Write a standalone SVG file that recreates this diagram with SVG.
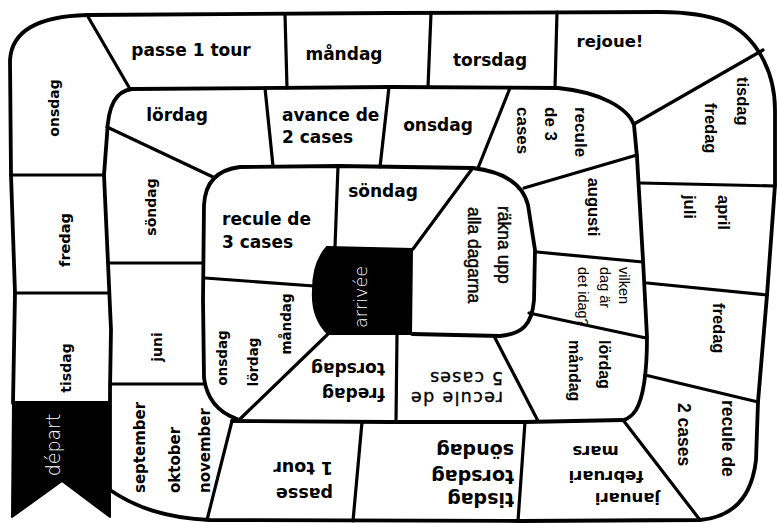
<svg xmlns="http://www.w3.org/2000/svg" width="777" height="523" viewBox="0 0 777 523">
<style>
.ln{fill:none;stroke:#000;stroke-width:3.2;stroke-linecap:round;stroke-linejoin:round}
.thick{stroke-width:3.8}
.v{font-family:"DejaVu Sans",Verdana,sans-serif;font-weight:bold;fill:#000}
.a{font-family:"Liberation Sans",Arial,sans-serif;font-weight:bold;fill:#000}
.r{font-family:"Liberation Sans",Arial,sans-serif;fill:#000}
.m{font-family:"Liberation Sans",Arial,sans-serif;fill:#000;stroke:#000;stroke-width:0.45}
.d{font-family:"DejaVu Sans",sans-serif;fill:#000;stroke:#000;stroke-width:0.35}
.w{font-family:"DejaVu Sans",sans-serif;font-weight:200;fill:#fff}
</style>
<rect width="777" height="523" fill="#fff"/>
<g id="board">
  <polygon id="depart-banner" points="13,402 110,402 110,517 62,481 12,517" fill="#000" stroke="#000" stroke-width="2" stroke-linejoin="round"/>
  <path id="arrivee-block" d="M327,247 L412,249 L411,334 L328,334 C316,322 312,306 313,290 C313,272 317,258 327,247 Z" fill="#000" stroke="#000" stroke-width="2"/>
  <path class="ln thick" d="M110,490 C135,507 165,518 210,520 L520,521 L700,520 C735,517 752,495 756,460 L758,402 L767,295 L775,185 L775,110 C775,70 755,35 725,22 C705,14 685,12 660,12 L390,13 L87,15 C50,16 12,25 10,60 L11,175 L15,293 L13,403"/>
  <path class="ln thick" d="M110,490 L110,390 L111,330 L108,263 L104,175 L107,135 C108,105 116,91 132,89 L390,87 L558,88 C600,92 628,108 634,125 L637,157 L643,260 L647,337 C647,372 643,398 636,410 C632,416 628,419 623,420 L525,422 L390,422 L232,421"/>
  <path class="ln thick" d="M237,419 C220,413 207,400 204,378 L203,300 L204,205 C205,185 215,170 240,167 L338,166 L473,168 C505,172 523,185 528,205 L535,250 L534,300 C532,325 522,334 500,336 L412,334"/>
</g>
<g id="connectors">
  <path class="ln" d="M87,15 L130,89"/>
  <path class="ln" d="M285,14 L287,88"/>
  <path class="ln" d="M431,13 L428,87"/>
  <path class="ln" d="M557,12 L555,88"/>
  <path class="ln" d="M763,50 L634,124"/>
  <path class="ln" d="M640,183 L775,186"/>
  <path class="ln" d="M647,283 L767,295"/>
  <path class="ln" d="M645,375 L758,402"/>
  <path class="ln" d="M623,420 L700,520"/>
  <path class="ln" d="M525,422 L518,521"/>
  <path class="ln" d="M362,422 L353,521"/>
  <path class="ln" d="M232,421 L207,520"/>
  <path class="ln" d="M11,175 L104,175"/>
  <path class="ln" d="M15,293 L109,293"/>
  <path class="ln" d="M107,127 L213,177"/>
  <path class="ln" d="M265,88 L273,166"/>
  <path class="ln" d="M389,87 L380,167"/>
  <path class="ln" d="M510,88 L478,168"/>
  <path class="ln" d="M524,188 L637,155"/>
  <path class="ln" d="M537,252 L643,262"/>
  <path class="ln" d="M529,313 L646,338"/>
  <path class="ln" d="M494,336 L538,421"/>
  <path class="ln" d="M397,335 L396,421"/>
  <path class="ln" d="M328,334 L240,419"/>
  <path class="ln" d="M108,263 L203,263"/>
  <path class="ln" d="M110,384 L203,384"/>
  <path class="ln" d="M338,166 L335,247"/>
  <path class="ln" d="M205,278 L314,286"/>
  <path class="ln" d="M472,169 L413,249"/>
</g>
<g id="labels">
  <g id="c-passe1"><text class="v" font-size="17" x="191" y="56" text-anchor="middle">passe 1 tour</text></g>
  <g id="c-mandag1"><text class="v" font-size="17" x="344" y="60" text-anchor="middle">måndag</text></g>
  <g id="c-torsdag1"><text class="v" font-size="17" x="490" y="66" text-anchor="middle">torsdag</text></g>
  <g id="c-rejoue"><text class="v" font-size="16.5" x="610" y="47" text-anchor="middle">rejoue!</text></g>
  <g id="c-lordag1"><text class="v" font-size="17" x="177" y="121" text-anchor="middle">lördag</text></g>
  <g id="c-avance"><text class="v" font-size="17" x="282" y="121">avance de</text><text class="v" font-size="17" x="282" y="143">2 cases</text></g>
  <g id="c-onsdag2"><text class="v" font-size="17" x="438" y="131" text-anchor="middle">onsdag</text></g>
  <g id="c-recule3b"><text class="v" font-size="17" x="222" y="225">recule de</text><text class="v" font-size="17" x="222" y="248">3 cases</text></g>
  <g id="c-sondag3"><text class="v" font-size="17" x="383" y="197" text-anchor="middle">söndag</text></g>

  <g id="c-onsdag1"><text class="v" font-size="14" transform="translate(58.6,108) rotate(-90)" text-anchor="middle">onsdag</text></g>
  <g id="c-fredag1"><text class="v" font-size="14.5" transform="translate(69.8,240) rotate(-90)" text-anchor="middle">fredag</text></g>
  <g id="c-tisdag1"><text class="v" font-size="14" transform="translate(70.6,368) rotate(-90)" text-anchor="middle">tisdag</text></g>
  <g id="c-depart"><text class="w" font-size="19" transform="translate(60,445) rotate(-90)" text-anchor="middle">départ</text></g>
  <g id="c-sondag2"><text class="v" font-size="14" transform="translate(155.6,207) rotate(-90)" text-anchor="middle">söndag</text></g>
  <g id="c-juni"><text class="v" font-size="14" transform="translate(161.6,347) rotate(-90)" text-anchor="middle">juni</text></g>
  <g id="c-sept">
    <text class="v" font-size="15" transform="translate(144.5,493) rotate(-90)">september</text>
    <text class="v" font-size="15" transform="translate(179.5,493) rotate(-90)">oktober</text>
    <text class="v" font-size="15" transform="translate(209.5,493) rotate(-90)">november</text>
  </g>
  <g id="c-olm">
    <text class="v" font-size="13.5" transform="translate(227,358) rotate(-90)" text-anchor="middle">onsdag</text>
    <text class="v" font-size="13.5" transform="translate(258,362) rotate(-90)" text-anchor="middle">lördag</text>
    <text class="v" font-size="13.5" transform="translate(291,324) rotate(-90)" text-anchor="middle">måndag</text>
  </g>
  <g id="c-arrivee"><text class="w" font-size="17.5" transform="translate(367,297) rotate(-90)" text-anchor="middle">arrivée</text></g>

  <g id="c-tisfre">
    <text class="a" font-size="16.5" transform="translate(737.2,77) rotate(90)">tisdag</text>
    <text class="a" font-size="16.5" transform="translate(705.2,103) rotate(90)">fredag</text>
  </g>
  <g id="c-apriljuli">
    <text class="a" font-size="16.5" transform="translate(718.2,195) rotate(90)">april</text>
    <text class="a" font-size="16.5" transform="translate(684.2,195) rotate(90)">juli</text>
  </g>
  <g id="c-fredag2"><text class="a" font-size="16.5" transform="translate(713.2,303) rotate(90)">fredag</text></g>
  <g id="c-recule2">
    <text class="a" font-size="17.5" transform="translate(722,400) rotate(90)">recule de</text>
    <text class="a" font-size="17.5" transform="translate(678,403) rotate(90)">2 cases</text>
  </g>
  <g id="c-recule3a">
    <text class="a" font-size="17" transform="translate(575,107) rotate(90)">recule</text>
    <text class="a" font-size="17" transform="translate(545,107) rotate(90)">de 3</text>
    <text class="a" font-size="17" transform="translate(517,107) rotate(90)">cases</text>
  </g>
  <g id="c-augusti"><text class="a" font-size="16.5" transform="translate(587.7,207) rotate(90)" text-anchor="middle">augusti</text></g>
  <g id="c-vilken">
    <text class="r" font-size="14.5" transform="translate(619,267) rotate(90)">vilken</text>
    <text class="r" font-size="14.5" transform="translate(599.7,267) rotate(90)">dag är</text>
    <text class="r" font-size="14.5" transform="translate(578,267) rotate(90)">det idag?</text>
  </g>
  <g id="c-lordmand">
    <text class="a" font-size="16" transform="translate(599,340) rotate(90)">lördag</text>
    <text class="a" font-size="16" transform="translate(569.3,340) rotate(90)">måndag</text>
  </g>
  <g id="c-rakna">
    <text class="m" font-size="17.5" transform="translate(498,206) rotate(90)">räkna upp</text>
    <text class="m" font-size="17.5" transform="translate(468,207) rotate(90)">alla dagarna</text>
  </g>

  <g id="c-januari">
    <text class="v" font-size="16.5" transform="translate(627.5,492.7) rotate(180)" text-anchor="middle">januari</text>
    <text class="v" font-size="16.5" transform="translate(606,470.7) rotate(180)" text-anchor="middle">februari</text>
    <text class="v" font-size="16.5" transform="translate(595.5,445.5) rotate(180)" text-anchor="middle">mars</text>
  </g>
  <g id="c-tts">
    <text class="v" font-size="19" transform="translate(514,493) rotate(180)">tisdag</text>
    <text class="v" font-size="19" transform="translate(514,470) rotate(180)">torsdag</text>
    <text class="v" font-size="19" transform="translate(514,444) rotate(180)">söndag</text>
  </g>
  <g id="c-passe2">
    <text class="v" font-size="17.5" transform="translate(333,488) rotate(180)">passe</text>
    <text class="v" font-size="17.5" transform="translate(333,462) rotate(180)">1 tour</text>
  </g>
  <g id="c-recule5">
    <text class="d" font-size="17.5" transform="translate(503,392) rotate(180)" textLength="92" lengthAdjust="spacing">recule de</text>
    <text class="d" font-size="17.5" transform="translate(503,371.5) rotate(180)" textLength="73" lengthAdjust="spacing">5 cases</text>
  </g>
  <g id="c-fretor">
    <text class="v" font-size="17" transform="translate(385,388) rotate(180)">fredag</text>
    <text class="v" font-size="17" transform="translate(385,363) rotate(180)">torsdag</text>
  </g>
</g>
</svg>
